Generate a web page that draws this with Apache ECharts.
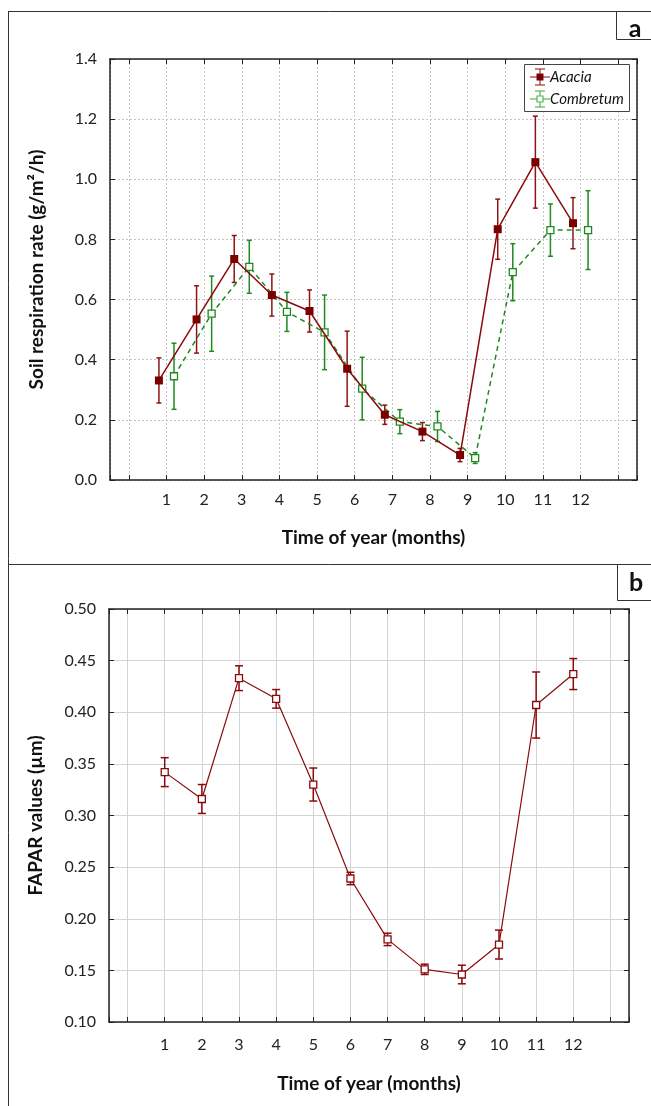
<!DOCTYPE html>
<html>
<head>
<meta charset="utf-8">
<script src="https://cdn.jsdelivr.net/npm/echarts@6/dist/echarts.min.js"></script>
<style>
html, body { margin: 0; padding: 0; background: #fff; }
#main { width: 651px; height: 1106px; }
</style>
</head>
<body>
<div id="main"></div>
<script>
// months and values
var months = [1, 2, 3, 4, 5, 6, 7, 8, 9, 10, 11, 12];

// panel a: soil respiration rate (g/m2/h), mean and error
var acaciaMean = [0.331, 0.534, 0.735, 0.615, 0.562, 0.370, 0.217, 0.161, 0.083, 0.834, 1.057, 0.854];
var acaciaErr = [0.075, 0.112, 0.078, 0.070, 0.070, 0.125, 0.032, 0.030, 0.022, 0.100, 0.153, 0.085];
var combretumMean = [0.345, 0.553, 0.709, 0.559, 0.491, 0.304, 0.194, 0.178, 0.073, 0.691, 0.831, 0.831];
var combretumErr = [0.110, 0.125, 0.088, 0.065, 0.124, 0.104, 0.040, 0.050, 0.018, 0.095, 0.087, 0.131];

// panel b: FAPAR values, mean and error
var faparMean = [0.342, 0.316, 0.433, 0.413, 0.330, 0.239, 0.180, 0.151, 0.146, 0.175, 0.407, 0.437];
var faparErr = [0.014, 0.014, 0.012, 0.009, 0.016, 0.006, 0.006, 0.005, 0.009, 0.014, 0.032, 0.015];

var dodge = 0.2;   // side-by-side shift of the two series in panel a
var FONT = 'Lato';
var RED = '#7a0000';
var GREEN = '#1f8a1f';

function points(mean, shift) {
	return months.map(function(m, i) { return [m + shift, mean[i]]; });
}
function bars(mean, err, shift) {
	return months.map(function(m, i) { return [m + shift, mean[i] - err[i], mean[i] + err[i]]; });
}

function errRenderer(color, cap, width) {
	return function(params, api) {
		var x = api.value(0);
		var lo = api.coord([x, api.value(1)]);
		var hi = api.coord([x, api.value(2)]);
		var st = { stroke: color, lineWidth: width };
		return {
			type: 'group',
			children: [
				{ type: 'line', shape: { x1: lo[0], y1: lo[1], x2: hi[0], y2: hi[1] }, style: st },
				{ type: 'line', shape: { x1: hi[0] - cap, y1: hi[1], x2: hi[0] + cap, y2: hi[1] }, style: st },
				{ type: 'line', shape: { x1: lo[0] - cap, y1: lo[1], x2: lo[0] + cap, y2: lo[1] }, style: st }
			]
		};
	};
}

function monthLabel(v) {
	return (v >= 1 && v <= 12 && Math.round(v) === v) ? String(v) : '';
}

var axisLine = { show: true, onZero: false, lineStyle: { color: '#222', width: 1.5 } };
var tickIn = { show: true, inside: true, length: 5, lineStyle: { color: '#222', width: 1 } };
var labelStyle = { fontFamily: FONT, fontSize: 16, color: '#222' };
var nameStyle = { fontFamily: FONT, fontSize: 19, fontWeight: 'bold', color: '#111' };

function xAxes(grid, dashed, margin, gap) {
	var split = { show: true, lineStyle: { color: dashed ? '#c4c4c4' : '#d4d4d4', type: dashed ? [2, 2] : 'solid', width: 1 } };
	return [
		{
			type: 'value', gridIndex: grid, min: -0.5, max: 13.5, splitNumber: 14,
			axisLine: axisLine, axisTick: tickIn, splitLine: split,
			axisLabel: Object.assign({ margin: margin, formatter: monthLabel }, labelStyle),
			name: 'Time of year (months)', nameLocation: 'middle', nameGap: gap, nameTextStyle: nameStyle
		},
		{
			type: 'value', gridIndex: grid, position: 'top', min: -0.5, max: 13.5, splitNumber: 14,
			axisLine: axisLine, axisTick: tickIn, splitLine: { show: false }, axisLabel: { show: false }
		}
	];
}

function yAxes(grid, min, max, step, digits, name, gap, dashed) {
	var split = { show: true, lineStyle: { color: dashed ? '#c4c4c4' : '#d4d4d4', type: dashed ? [2, 2] : 'solid', width: 1 } };
	return [
		{
			type: 'value', gridIndex: grid, min: min, max: max, interval: step,
			axisLine: axisLine, axisTick: tickIn, splitLine: split,
			axisLabel: Object.assign({ margin: 13, formatter: function(v) { return v.toFixed(digits); } }, labelStyle),
			name: name, nameLocation: 'middle', nameGap: gap, nameTextStyle: nameStyle
		},
		{
			type: 'value', gridIndex: grid, position: 'right', min: min, max: max, interval: step,
			axisLine: axisLine, axisTick: tickIn, splitLine: { show: false }, axisLabel: { show: false }
		}
	];
}

var frame = { stroke: '#333', lineWidth: 1 };

var graphics = [
	{ type: 'line', shape: { x1: 8.5, y1: 11, x2: 8.5, y2: 1106 }, style: frame },
	{ type: 'line', shape: { x1: 8, y1: 11.5, x2: 651, y2: 11.5 }, style: frame },
	{ type: 'line', shape: { x1: 8, y1: 564.5, x2: 651, y2: 564.5 }, style: frame },
	{ type: 'rect', shape: { x: 616.5, y: 11.5, width: 40, height: 28 }, style: { fill: '#fff', stroke: '#333', lineWidth: 1 } },
	{ type: 'text', x: 635, y: 29, style: { text: 'a', font: 'bold 25px ' + FONT, fill: '#111', align: 'center', verticalAlign: 'middle' } },
	{ type: 'rect', shape: { x: 617.5, y: 564.5, width: 40, height: 36 }, style: { fill: '#fff', stroke: '#333', lineWidth: 1 } },
	{ type: 'text', x: 636, y: 583, style: { text: 'b', font: 'bold 25px ' + FONT, fill: '#111', align: 'center', verticalAlign: 'middle' } },

	// legend of panel a
	{ type: 'rect', shape: { x: 524.5, y: 64.5, width: 105, height: 47 }, style: { fill: '#fff', stroke: '#444', lineWidth: 1 }, z: 10 },
	{ type: 'line', shape: { x1: 530, y1: 77, x2: 550, y2: 77 }, style: { stroke: '#a33030', lineWidth: 1.2 }, z: 11 },
	{ type: 'line', shape: { x1: 540, y1: 69, x2: 540, y2: 85 }, style: { stroke: '#a33030', lineWidth: 1.2 }, z: 11 },
	{ type: 'line', shape: { x1: 535, y1: 69, x2: 545, y2: 69 }, style: { stroke: '#a33030', lineWidth: 1.2 }, z: 11 },
	{ type: 'line', shape: { x1: 535, y1: 85, x2: 545, y2: 85 }, style: { stroke: '#a33030', lineWidth: 1.2 }, z: 11 },
	{ type: 'rect', shape: { x: 536.5, y: 73.5, width: 7, height: 7 }, style: { fill: RED }, z: 12 },
	{ type: 'text', x: 550, y: 77, style: { text: 'Acacia', font: 'italic 15px ' + FONT, fill: '#111', verticalAlign: 'middle' }, z: 11 },
	{ type: 'line', shape: { x1: 530, y1: 99, x2: 550, y2: 99 }, style: { stroke: '#56b456', lineWidth: 1.2 }, z: 11 },
	{ type: 'line', shape: { x1: 540, y1: 91, x2: 540, y2: 107 }, style: { stroke: '#56b456', lineWidth: 1.2 }, z: 11 },
	{ type: 'line', shape: { x1: 535, y1: 91, x2: 545, y2: 91 }, style: { stroke: '#56b456', lineWidth: 1.2 }, z: 11 },
	{ type: 'line', shape: { x1: 535, y1: 107, x2: 545, y2: 107 }, style: { stroke: '#56b456', lineWidth: 1.2 }, z: 11 },
	{ type: 'rect', shape: { x: 537, y: 96, width: 6, height: 6 }, style: { fill: '#fff', stroke: '#56b456', lineWidth: 1.2 }, z: 12 },
	{ type: 'text', x: 550, y: 99, style: { text: 'Combretum', font: 'italic 15px ' + FONT, fill: '#111', verticalAlign: 'middle' }, z: 11 }
];

var chart = echarts.init(document.getElementById('main'), null, { renderer: 'canvas' });

chart.setOption({
	animation: false,
	backgroundColor: '#fff',
	grid: [
		{ left: 110, top: 59, width: 527, height: 421 },
		{ left: 109, top: 609, width: 520, height: 413 }
	],
	xAxis: xAxes(0, true, 12, 48).concat(xAxes(1, false, 15, 52)),
	yAxis: yAxes(0, 0, 1.4, 0.2, 1, 'Soil respiration rate (g/m\u00B2/h)', 64, true)
		.concat(yAxes(1, 0.1, 0.5, 0.05, 2, 'FAPAR values (\u00B5m)', 64, false)),
	graphic: graphics,
	series: [
		{
			type: 'custom', name: 'Acacia error', xAxisIndex: 0, yAxisIndex: 0, z: 3,
			renderItem: errRenderer('#8e1414', 2.5, 1.5),
			encode: { x: 0, y: [1, 2] },
			data: bars(acaciaMean, acaciaErr, -dodge)
		},
		{
			type: 'custom', name: 'Combretum error', xAxisIndex: 0, yAxisIndex: 0, z: 3,
			renderItem: errRenderer(GREEN, 2.5, 1.5),
			encode: { x: 0, y: [1, 2] },
			data: bars(combretumMean, combretumErr, dodge)
		},
		{
			type: 'line', name: 'Acacia', xAxisIndex: 0, yAxisIndex: 0, z: 5,
			symbol: 'rect', symbolSize: 8,
			lineStyle: { color: '#8b0a0a', width: 1.5 },
			itemStyle: { color: RED },
			data: points(acaciaMean, -dodge)
		},
		{
			type: 'line', name: 'Combretum', xAxisIndex: 0, yAxisIndex: 0, z: 4,
			symbol: 'rect', symbolSize: 7,
			lineStyle: { color: GREEN, width: 1.5, type: [5, 4] },
			itemStyle: { color: '#fff', borderColor: GREEN, borderWidth: 1.3 },
			data: points(combretumMean, dodge)
		},
		{
			type: 'custom', name: 'FAPAR error', xAxisIndex: 2, yAxisIndex: 2, z: 3,
			renderItem: errRenderer('#8b0a0a', 4, 1.5),
			encode: { x: 0, y: [1, 2] },
			data: bars(faparMean, faparErr, 0)
		},
		{
			type: 'line', name: 'FAPAR', xAxisIndex: 2, yAxisIndex: 2, z: 5,
			symbol: 'rect', symbolSize: 7,
			lineStyle: { color: '#8b0a0a', width: 1.2 },
			itemStyle: { color: '#fff', borderColor: '#8b0a0a', borderWidth: 1.3 },
			data: points(faparMean, 0)
		}
	]
});
</script>
</body>
</html>
